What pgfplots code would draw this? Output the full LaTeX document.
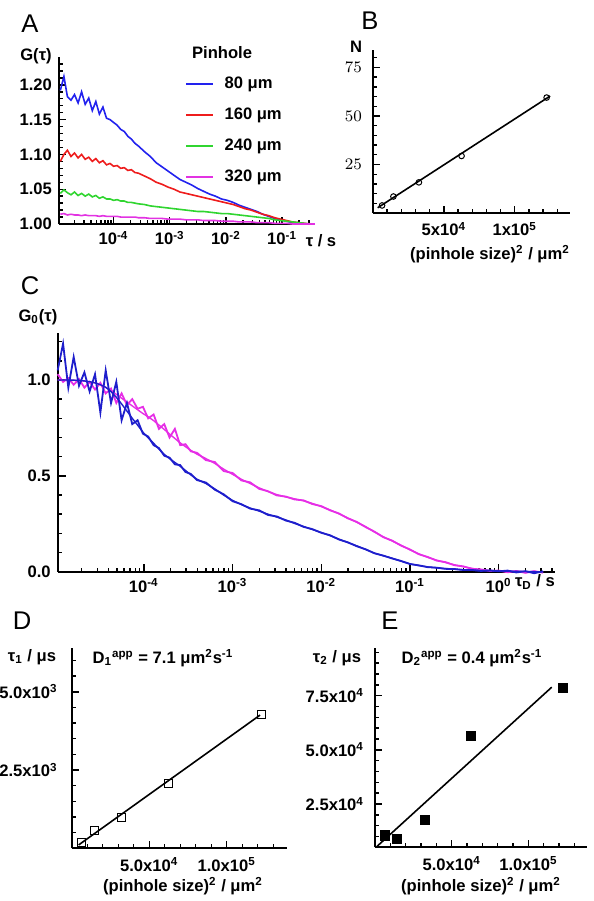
\documentclass[border=0pt]{standalone}
\usepackage{fontspec}
\setmainfont{Liberation Sans}
\usepackage{pgfplots}
\usepackage{pgfplotstable}
\pgfplotsset{compat=1.18}

\definecolor{pblue}{HTML}{2222EE}
\definecolor{pred}{HTML}{EE1C1C}
\definecolor{pgreen}{HTML}{30D530}
\definecolor{pmag}{HTML}{E232E2}
\definecolor{cblue}{HTML}{1E1ECC}
\definecolor{cmag}{HTML}{E62EE6}

\newcommand\lab{\fontsize{8.3}{9.5}\selectfont\bfseries}
\newcommand\panel{\fontsize{12.8}{14}\selectfont}

\pgfplotsset{
  panel/.style={
    scale only axis, anchor=south west, axis lines=left,
    axis line style={-, line width=0.9pt},
    tick style={black, line width=0.7pt},
    major tick length=3.5pt, minor tick length=2pt,
    tick align=inside,
    tick label style={font=\lab},
    scaled ticks=false,
    clip=false,
  },
  logminor/.style={minor xtick={2e-5,3e-5,4e-5,5e-5,6e-5,7e-5,8e-5,9e-5,
    2e-4,3e-4,4e-4,5e-4,6e-4,7e-4,8e-4,9e-4,2e-3,3e-3,4e-3,5e-3,6e-3,7e-3,8e-3,9e-3,
    2e-2,3e-2,4e-2,5e-2,6e-2,7e-2,8e-2,9e-2,2e-1,3e-1,4e-1,5e-1,6e-1,7e-1,8e-1,9e-1,
    2,3,4}},
  sizeaxis/.style={
    xmin=0, xmax=1.387e5,
    xtick={5e4,1e5},
    minor xtick={1e4,2e4,3e4,4e4,6e4,7e4,8e4,9e4,1.1e5,1.2e5,1.3e5},
    xticklabel style={yshift=-1pt},
  },
}

% panel A: G(tau) for four pinholes
\pgfplotstableread{
t        p80   p160  p240  p320
1.13e-5  1.192 1.090 1.044 1.014
1.31e-5  1.212 1.100 1.049 1.015
1.51e-5  1.183 1.106 1.045 1.013
1.75e-5  1.178 1.097 1.042 1.014
2.02e-5  1.186 1.102 1.046 1.013
2.34e-5  1.174 1.095 1.041 1.013
2.70e-5  1.190 1.100 1.044 1.012
3.13e-5  1.172 1.093 1.040 1.013
3.62e-5  1.181 1.096 1.043 1.012
4.19e-5  1.163 1.090 1.039 1.012
4.84e-5  1.176 1.094 1.041 1.012
5.60e-5  1.158 1.088 1.037 1.011
6.48e-5  1.168 1.091 1.039 1.012
7.50e-5  1.152 1.085 1.036 1.011
8.67e-5  1.150 1.087 1.036 1.011
1.00e-4  1.146 1.083 1.034 1.011
1.16e-4  1.142 1.084 1.035 1.011
1.34e-4  1.136 1.080 1.033 1.010
1.55e-4  1.133 1.081 1.033 1.010
1.80e-4  1.126 1.077 1.031 1.010
2.08e-4  1.122 1.078 1.031 1.010
2.40e-4  1.116 1.074 1.030 1.010
2.78e-4  1.112 1.073 1.029 1.009
3.55e-4  1.104 1.069 1.028 1.009
4.52e-4  1.097 1.065 1.026 1.008
5.75e-4  1.088 1.060 1.025 1.008
7.34e-4  1.082 1.057 1.024 1.008
9.35e-4  1.076 1.053 1.023 1.007
1.19e-3  1.070 1.050 1.022 1.007
1.52e-3  1.064 1.046 1.021 1.007
1.94e-3  1.060 1.044 1.020 1.006
2.47e-3  1.056 1.042 1.019 1.006
3.15e-3  1.051 1.040 1.018 1.006
4.01e-3  1.047 1.038 1.018 1.005
5.12e-3  1.043 1.036 1.017 1.005
6.52e-3  1.040 1.034 1.016 1.005
8.32e-3  1.036 1.032 1.015 1.004
1.06e-2  1.034 1.030 1.015 1.004
1.35e-2  1.031 1.028 1.014 1.004
1.72e-2  1.027 1.025 1.013 1.003
2.19e-2  1.024 1.022 1.012 1.003
2.80e-2  1.021 1.020 1.011 1.003
3.56e-2  1.018 1.017 1.010 1.002
4.54e-2  1.014 1.014 1.009 1.002
5.79e-2  1.011 1.012 1.008 1.002
7.38e-2  1.008 1.009 1.006 1.001
9.42e-2  1.006 1.007 1.005 1.001
1.20e-1  1.004 1.005 1.004 1.001
1.53e-1  1.002 1.003 1.003 1.000
1.95e-1  1.001 1.002 1.002 1.000
2.48e-1  1.000 1.001 1.001 1.000
3.17e-1  1.000 1.000 1.000 1.000
3.85e-1  1.000 1.000 1.000 1.000
}\tableA

% panel C: normalised curves (data and fit)
\pgfplotstableread{
t        b      bf     m      mf
1.07e-5  1.050  1.000  1.030  1.000
1.23e-5  1.190  1.000  0.990  1.000
1.41e-5  0.960  1.000  1.010  0.999
1.62e-5  1.120  0.999  0.975  0.998
1.86e-5  0.970  0.998  1.005  0.997
2.14e-5  1.040  0.995  0.960  0.994
2.45e-5  0.940  0.991  0.990  0.990
2.82e-5  1.030  0.985  0.950  0.985
3.24e-5  0.830  0.975  0.985  0.976
3.72e-5  1.050  0.962  0.930  0.962
4.27e-5  0.880  0.940  0.955  0.945
4.90e-5  0.990  0.910  0.880  0.925
5.62e-5  0.790  0.875  0.930  0.905
6.46e-5  0.880  0.838  0.870  0.885
7.41e-5  0.770  0.800  0.900  0.865
8.51e-5  0.790  0.765  0.850  0.845
9.77e-5  0.720  0.728  0.860  0.825
1.12e-4  0.705  0.698  0.800  0.808
1.29e-4  0.660  0.670  0.820  0.788
1.48e-4  0.645  0.640  0.745  0.765
1.70e-4  0.605  0.612  0.770  0.742
1.95e-4  0.595  0.590  0.700  0.718
2.24e-4  0.560  0.570  0.745  0.695
2.57e-4  0.556  0.550  0.660  0.672
2.95e-4  0.520  0.528  0.665  0.652
3.39e-4  0.510  0.505  0.628  0.633
3.98e-4  0.478  0.482  0.620  0.613
5.01e-4  0.465  0.460  0.582  0.590
6.31e-4  0.428  0.432  0.572  0.565
7.94e-4  0.404  0.400  0.525  0.535
1.00e-3  0.368  0.372  0.515  0.508
1.26e-3  0.352  0.350  0.476  0.482
1.58e-3  0.329  0.332  0.466  0.460
2.00e-3  0.320  0.316  0.432  0.437
2.51e-3  0.296  0.300  0.420  0.418
3.16e-3  0.288  0.285  0.398  0.402
3.98e-3  0.267  0.270  0.392  0.390
5.01e-3  0.255  0.252  0.377  0.380
6.31e-3  0.234  0.236  0.372  0.370
7.94e-3  0.222  0.220  0.353  0.356
1.00e-2  0.203  0.205  0.342  0.340
1.26e-2  0.190  0.188  0.320  0.322
1.58e-2  0.168  0.170  0.304  0.302
2.00e-2  0.153  0.152  0.278  0.280
2.51e-2  0.133  0.135  0.260  0.258
3.16e-2  0.117  0.116  0.233  0.235
3.98e-2  0.096  0.097  0.209  0.207
5.01e-2  0.084  0.083  0.180  0.182
6.31e-2  0.069  0.070  0.162  0.160
7.94e-2  0.056  0.055  0.136  0.138
1.00e-1  0.040  0.041  0.116  0.114
1.26e-1  0.033  0.032  0.091  0.093
1.58e-1  0.024  0.025  0.077  0.075
2.00e-1  0.021  0.020  0.058  0.060
2.51e-1  0.015  0.016  0.050  0.048
3.16e-1  0.014  0.013  0.034  0.036
3.98e-1  0.009  0.010  0.028  0.026
5.01e-1  0.009  0.008  0.015  0.017
6.31e-1  0.004  0.006  0.012  0.010
7.94e-1  0.007  0.005  0.004  0.006
1.00     0.002  0.004  0.006  0.003
1.26     0.006  0.003  -0.003 0.002
1.58     -0.004 0.002  0.004  0.001
2.00     0.003  0.001  -0.006 0.000
2.51     -0.008 0.000  0.003  0.000
3.16     0.002  0.000  -0.005 0.000
}\tableC

\begin{document}
\begin{tikzpicture}[x=0.5pt,y=-0.5pt]
\useasboundingbox (0,0) rectangle (594,901);
\coordinate (oA) at (59,224);
\coordinate (oB) at (373,213);
\coordinate (oC) at (57.7,571.7);
\coordinate (oD) at (71.7,848.3);
\coordinate (oE) at (375,847.3);

% ---- A ----
\begin{axis}[panel, logminor, at={(oA)}, width=128pt, height=83.5pt,
  xmode=log, xmin=1.07e-5, xmax=0.385, ymin=1, ymax=1.24,
  xtick={1e-4,1e-3,1e-2,1e-1},
  xticklabels={10\textsuperscript{-4},10\textsuperscript{-3},10\textsuperscript{-2},10\textsuperscript{-1}},
  ytick={1,1.05,1.1,1.15,1.2},
  yticklabels={1.00,1.05,1.10,1.15,1.20},
  minor ytick={1.01,1.02,1.03,1.04,1.06,1.07,1.08,1.09,1.11,1.12,1.13,1.14,1.16,1.17,1.18,1.19,1.21,1.22,1.23},
  legend style={at={(axis description cs:0.492,0.91)}, anchor=north west,
    draw=none, fill=none, font=\lab, inner sep=0pt, row sep=4.3pt,
    /tikz/every odd column/.append style={column sep=3pt}},
  legend cell align=left,
  legend image code/.code={\draw[#1, line width=1.1pt] (0pt,0pt) -- (13.5pt,0pt);},
  every axis plot/.append style={line width=0.8pt},
]
\addplot[pblue] table[x=t,y=p80] {\tableA};
\addlegendentry{80 μm}
\addplot[pred] table[x=t,y=p160] {\tableA};
\addlegendentry{160 μm}
\addplot[pgreen] table[x=t,y=p240] {\tableA};
\addlegendentry{240 μm}
\addplot[pmag] table[x=t,y=p320] {\tableA};
\addlegendentry{320 μm}
\end{axis}

% ---- B ----
\begin{axis}[panel, sizeaxis, at={(oB)}, width=98.5pt, height=81.5pt,
  xmin=0, xmax=1.39e5, ymin=0, ymax=84,
  xticklabels={5x10\textsuperscript{4},1x10\textsuperscript{5}},
  ytick={25,50,75},
  minor ytick={5,10,15,20,30,35,40,45,55,60,65,70,80},
  yticklabel style={xshift=-2pt},
]
\addplot[black, line width=0.8pt] coordinates {(3300,2.7) (125000,60.3)};
\addplot[only marks, mark=o, mark size=1.4pt, black, line width=0.5pt] coordinates {
  (6400,3.9) (14400,8.5) (32400,15.8) (62500,29.4) (122500,59.5)};
\end{axis}

% ---- C ----
\begin{axis}[panel, logminor, at={(oC)}, width=248.6pt, height=119.35pt,
  xmode=log, xmin=1.07e-5, xmax=4.3, ymin=0, ymax=1.245,
  major tick length=4pt,
  xtick={1e-4,1e-3,1e-2,1e-1,1},
  xticklabels={10\textsuperscript{-4},10\textsuperscript{-3},10\textsuperscript{-2},10\textsuperscript{-1},10\textsuperscript{0}},
  ytick={0,0.5,1},
  yticklabels={0.0,0.5,1.0},
  minor ytick={0.1,0.2,0.3,0.4,0.6,0.7,0.8,0.9,1.1,1.2},
]
\addplot[cmag, line width=0.9pt] table[x=t,y=m] {\tableC};
\addplot[cmag, line width=0.7pt] table[x=t,y=mf] {\tableC};
\addplot[cblue, line width=0.9pt] table[x=t,y=b] {\tableC};
\addplot[cblue, line width=0.7pt] table[x=t,y=bf] {\tableC};
\end{axis}

% ---- D ----
\begin{axis}[panel, sizeaxis, at={(oD)}, width=107.5pt, height=100.15pt,
  ymin=0, ymax=6400,
  xticklabels={5.0x10\textsuperscript{4},1.0x10\textsuperscript{5}},
  ytick={2500,5000},
  yticklabels={2.5x10\textsuperscript{3},5.0x10\textsuperscript{3}},
  minor ytick={500,1000,1500,2000,3000,3500,4000,4500,5500,6000},
  yticklabel style={xshift=-3.5pt},
]
\addplot[black, line width=0.8pt] coordinates {(4500,109) (121500,4256)};
\addplot[only marks, mark=square, mark size=2pt, black, line width=0.5pt] coordinates {
  (6400,179) (14400,562) (32400,977) (62500,2063) (122500,4288)};
\end{axis}

% ---- E ----
\begin{axis}[panel, sizeaxis, at={(oE)}, width=105.85pt, height=99.65pt,
  xmax=1.38e5, ymin=5000, ymax=97000,
  xticklabels={5.0x10\textsuperscript{4},1.0x10\textsuperscript{5}},
  ytick={25000,50000,75000},
  yticklabels={2.5x10\textsuperscript{4},5.0x10\textsuperscript{4},7.5x10\textsuperscript{4}},
  minor ytick={10000,15000,20000,30000,35000,40000,45000,55000,60000,65000,70000,80000,85000,90000,95000},
  yticklabel style={xshift=-2pt},
]
\addplot[black, line width=0.8pt] coordinates {(650,5000) (115200,78900)};
\addplot[only marks, mark=square*, mark size=2.4pt, black] coordinates {
  (6400,10400) (14400,8860) (32400,17600) (62500,56400) (122500,78650)};
\end{axis}

% panel letters
\node[font=\panel] at (30,24) {A};
\node[font=\panel] at (370,21) {B};
\node[font=\panel] at (30,286) {C};
\node[font=\panel] at (22,621) {D};
\node[font=\panel] at (390,621) {E};

% axis titles
\node[font=\lab] at (36,56) {G(τ)};
\node[font=\lab, anchor=west] at (185,52.5) {Pinhole};
\node[font=\lab] at (321,241) {τ / s};
\node[font=\lab] at (356,47) {N};
\node[font=\lab] at (490,254) {(pinhole size)\textsuperscript{2} / μm\textsuperscript{2}};
\node[font=\lab] at (38,317) {G\textsubscript{0}(τ)};
\node[font=\lab] at (535,582) {τ\textsubscript{D} / s};
\node[font=\lab] at (32,657) {τ\textsubscript{1} / μs};
\node[font=\lab] at (163,658) {D\textsubscript{1}\textsuperscript{app} = 7.1 μm\textsuperscript{2}s\textsuperscript{-1}};
\node[font=\lab] at (183,886) {(pinhole size)\textsuperscript{2} / μm\textsuperscript{2}};
\node[font=\lab] at (337,658) {τ\textsubscript{2} / μs};
\node[font=\lab] at (472,658) {D\textsubscript{2}\textsuperscript{app} = 0.4 μm\textsuperscript{2}s\textsuperscript{-1}};
\node[font=\lab] at (481,886) {(pinhole size)\textsuperscript{2} / μm\textsuperscript{2}};
\end{tikzpicture}
\end{document}
